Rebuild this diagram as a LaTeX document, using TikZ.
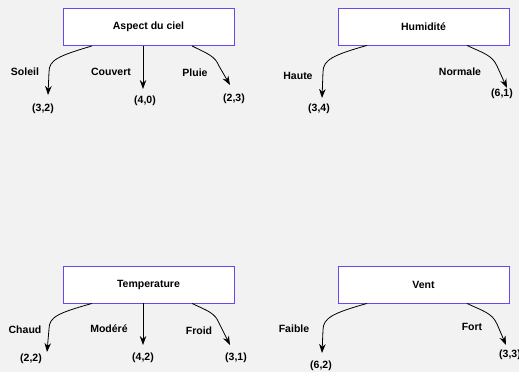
\documentclass[tikz,border=0pt]{standalone}
\usepackage{fontspec}
\setmainfont{Liberation Sans}
\usetikzlibrary{arrows.meta}
\definecolor{bg}{RGB}{242,242,242}
\definecolor{bord}{RGB}{110,70,240}
\tikzset{
  box/.style={draw=bord, line width=0.9pt, fill=white, minimum width=171pt, minimum height=37pt, inner sep=0pt, font=\bfseries\fontsize{10.5}{12}\selectfont},
  lbl/.style={inner sep=0pt, font=\bfseries\fontsize{10.5}{12}\selectfont},
  arr/.style={line width=0.8pt, -{Stealth[length=9pt,width=6.5pt]}}
}
\begin{document}
\begin{tikzpicture}[x=1pt,y=-1pt]
\path[fill=bg] (0,0) rectangle (519,372);
\useasboundingbox (0,0) rectangle (519,372);
% boxes
\node[box] (b1) at (148.5,27) {Aspect du ciel};
\node[box] (b2) at (423.5,26.5) {Humidité};
\node[box] (b3) at (148.5,284.5) {Temperature};
\node[box] (b4) at (423.5,284.5) {Vent};
% box 1
\coordinate (t11) at (48,95);
\coordinate (t12) at (143,89);
\coordinate (t13) at (230,85);
\draw[arr] (b1.south -| 92,0) .. controls (58,56) and (49,60) .. (49,72) -- (t11);
\draw[arr] (b1.south -| 143,0) -- (t12);
\draw[arr] (b1.south -| 192,0) .. controls (208,54) and (215,56) .. (219,66) -- (t13);
\node[lbl] (l11) at (25,72) {Soleil};
\node[lbl] (l12) at (111,72) {Couvert};
\node[lbl] (l13) at (195,73) {Pluie};
\node[lbl] (v11) at (43,109) {(3,2)};
\node[lbl] (v12) at (145,101) {(4,0)};
\node[lbl] (v13) at (234,99) {(2,3)};
% box 2
\coordinate (t21) at (322,98);
\coordinate (t22) at (507,88);
\draw[arr] (b2.south -| 367,0) .. controls (333,55) and (323,60) .. (323,72) -- (t21);
\draw[arr] (b2.south -| 467,0) .. controls (483,53) and (492,55) .. (497,66) -- (t22);
\node[lbl] (l21) at (298,76) {Haute};
\node[lbl] (l22) at (460,72) {Normale};
\node[lbl] (v21) at (319,109) {(3,4)};
\node[lbl] (v22) at (502,94) {(6,1)};
% box 3
\coordinate (t31) at (47,352);
\coordinate (t32) at (143,345);
\coordinate (t33) at (230,345);
\draw[arr] (b3.south -| 92,0) .. controls (58,313) and (49,317) .. (49,329) -- (t31);
\draw[arr] (b3.south -| 143,0) -- (t32);
\draw[arr] (b3.south -| 192,0) .. controls (208,311) and (215,313) .. (219,323) -- (t33);
\node[lbl] (l31) at (25,330) {Chaud};
\node[lbl] (l32) at (109,329) {Modéré};
\node[lbl] (l33) at (199,331) {Froid};
\node[lbl] (v31) at (31,359) {(2,2)};
\node[lbl] (v32) at (143,358) {(4,2)};
\node[lbl] (v33) at (236,358) {(3,1)};
% box 4
\coordinate (t41) at (322,353);
\coordinate (t42) at (506,345);
\draw[arr] (b4.south -| 367,0) .. controls (333,313) and (323,318) .. (323,330) -- (t41);
\draw[arr] (b4.south -| 467,0) .. controls (483,311) and (492,313) .. (497,324) -- (t42);
\node[lbl] (l41) at (294,329) {Faible};
\node[lbl] (l42) at (472,327) {Fort};
\node[lbl] (v41) at (321,366) {(6,2)};
\node[lbl] (v42) at (510,355) {(3,3)};
\end{tikzpicture}
\end{document}
